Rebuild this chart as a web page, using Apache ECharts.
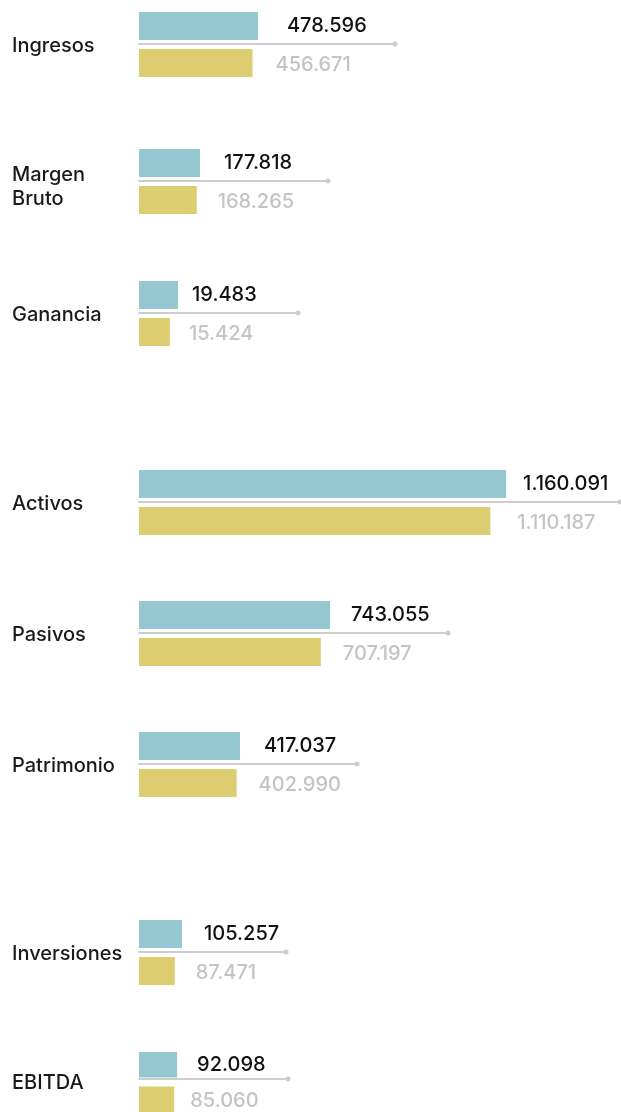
<!DOCTYPE html>
<html>
<head>
<meta charset="utf-8">
<script src="https://cdn.jsdelivr.net/npm/echarts@6/dist/echarts.min.js"></script>
<style>
  html, body { margin: 0; padding: 0; background: #ffffff; }
  #chart { width: 621px; height: 1112px; }
</style>
</head>
<body>
<div id="chart"></div>
<script>
// Indicators (current year vs. previous year)
const categories = ['Ingresos', 'Margen\nBruto', 'Ganancia', 'Activos', 'Pasivos', 'Patrimonio', 'Inversiones', 'EBITDA'];
const currentYear = [478596, 177818, 19483, 1160091, 743055, 417037, 105257, 92098];
const previousYear = [456671, 168265, 15424, 1110187, 707197, 402990, 87471, 85060];

// Layout of each row: top of the row, end of the guide line, axis maximum
const rowTop = [12, 149, 281, 470, 601, 732, 920, 1052];
const lineEnd = [395, 328, 298, 620, 448, 357, 286, 288];
const axisMax = [1030000, 551000, 79400, 1520000, 1202000, 900000, 360000, 360000];
const currentGap = [29, 24, 14, 17, 21, 24, 22, 20];
const previousGap = [23, 21, 19, 27, 22, 22, 21, 16];
const nameShift = [2, 10, 3, 2, 2, 2, 2, 2];

const FONT = 'Inter, "Noto Sans", sans-serif';
const BLUE = '#94c7d0';
const YELLOW = '#dccd71';
const LEFT = 139;
const ROW_H = 65;

function fmt(v) {
  return String(v).replace(/\B(?=(\d{3})+(?!\d))/g, '.');
}

const grid = [], xAxis = [], yAxis = [], series = [];
categories.forEach(function (name, i) {
  grid.push({ left: LEFT, top: rowTop[i], height: ROW_H, right: 621 - lineEnd[i], containLabel: false });
  xAxis.push({
    gridIndex: i, type: 'value', min: 0, max: axisMax[i],
    position: 'bottom', offset: -33,
    axisLine: { show: true, symbol: ['none', 'circle'], symbolSize: [5, 5],
      lineStyle: { color: '#cdcdcd', width: 2 } },
    axisTick: { show: false }, axisLabel: { show: false }, splitLine: { show: false }
  });
  yAxis.push({
    gridIndex: i, type: 'category', data: [name],
    axisLine: { show: false }, axisTick: { show: false },
    axisLabel: {
      align: 'left', margin: LEFT - 12,
      // a thin empty first line nudges the name block downward
      formatter: function (v) {
        return '{s|}\n' + v.split('\n').map(function (l) { return '{n|' + l + '}'; }).join('\n');
      },
      rich: {
        s: { lineHeight: nameShift[i], fontSize: 1 },
        n: { color: '#1a1a1a', fontSize: 20, fontWeight: 500, fontFamily: FONT, lineHeight: 24 }
      }
    }
  });
  series.push({
    type: 'bar', xAxisIndex: i, yAxisIndex: i, data: [currentYear[i]],
    barWidth: 28, barGap: '32%', itemStyle: { color: BLUE },
    label: { show: true, position: 'right', distance: currentGap[i], color: '#111111',
      fontSize: 20, fontWeight: 500, fontFamily: FONT,
      formatter: function (p) { return fmt(p.value); } }
  });
  series.push({
    type: 'bar', xAxisIndex: i, yAxisIndex: i, data: [previousYear[i]],
    barWidth: 28, barGap: '32%', itemStyle: { color: YELLOW },
    label: { show: true, position: 'right', distance: previousGap[i], offset: [0, 2],
      color: '#c4c4c4', fontSize: 20, fontWeight: 500, fontFamily: FONT,
      formatter: function (p) { return fmt(p.value); } }
  });
});

const chart = echarts.init(document.getElementById('chart'), null, { renderer: 'canvas' });
chart.setOption({
  animation: false,
  backgroundColor: '#ffffff',
  grid: grid, xAxis: xAxis, yAxis: yAxis, series: series
});
</script>
</body>
</html>
